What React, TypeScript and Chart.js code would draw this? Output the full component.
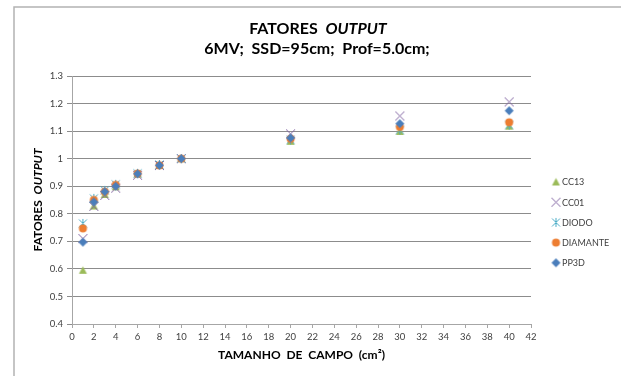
import React, { useEffect, useRef } from 'react';
import { Chart, registerables } from 'chart.js';
Chart.register(...registerables);

const fieldSizes = [1, 2, 3, 4, 6, 8, 10, 20, 30, 40];
const cc13 = [0.595, 0.828, 0.870, 0.898, 0.944, 0.975, 1.0, 1.063, 1.099, 1.118];
const cc01 = [0.710, 0.827, 0.867, 0.893, 0.940, 0.975, 1.0, 1.090, 1.155, 1.206];
const diodo = [0.765, 0.856, 0.885, 0.907, 0.947, 0.979, 1.0, 1.068, 1.104, 1.122];
const diamante = [0.747, 0.850, 0.880, 0.905, 0.946, 0.976, 1.0, 1.072, 1.115, 1.132];
const pp3d = [0.697, 0.843, 0.880, 0.900, 0.945, 0.976, 1.0, 1.075, 1.127, 1.174];
const seriesNames = ['CC13', 'CC01', 'DIODO', 'DIAMANTE', 'PP3D'];
const seriesValues = [cc13, cc01, diodo, diamante, pp3d];
const seriesColors = ['#9BBB59', '#8064A2', '#4BACC6', '#ED7D31', '#4A7EBB'];
const xMin = 0, xMax = 42, xStep = 2;
const yMin = 0.4, yMax = 1.3, yStep = 0.1;
const titleLine1 = ['FATORES  ', 'OUTPUT'];
const titleLine2 = '6MV;  SSD=95cm;  Prof=5.0cm;';
const yTitle = ['FATORES  ', 'OUTPUT'];
const xTitle = 'TAMANHO  DE  CAMPO  (cm²)';

const FONT = 'Lato, "Liberation Sans", sans-serif';

function makeMarker(kind: string, color: string): HTMLCanvasElement {
  const s = 11;
  const c = document.createElement('canvas');
  c.width = s; c.height = s;
  const ctx = c.getContext('2d')!;
  const m = s / 2;
  ctx.fillStyle = color;
  ctx.strokeStyle = color;
  ctx.lineWidth = 1;
  if (kind === 'triangle') {
    ctx.beginPath();
    ctx.moveTo(m, m - 4);
    ctx.lineTo(m + 4, m + 3.5);
    ctx.lineTo(m - 4, m + 3.5);
    ctx.closePath();
    ctx.fill();
  } else if (kind === 'x') {
    ctx.beginPath();
    ctx.moveTo(m - 4.5, m - 4.5); ctx.lineTo(m + 4.5, m + 4.5);
    ctx.moveTo(m + 4.5, m - 4.5); ctx.lineTo(m - 4.5, m + 4.5);
    ctx.stroke();
  } else if (kind === 'star') {
    ctx.beginPath();
    ctx.moveTo(m - 4, m - 4); ctx.lineTo(m + 4, m + 4);
    ctx.moveTo(m + 4, m - 4); ctx.lineTo(m - 4, m + 4);
    ctx.moveTo(m, m - 4.5); ctx.lineTo(m, m + 4.5);
    ctx.stroke();
  } else if (kind === 'circle') {
    ctx.beginPath();
    ctx.arc(m, m, 4, 0, Math.PI * 2);
    ctx.fill();
  } else {
    ctx.beginPath();
    ctx.moveTo(m, m - 4.5);
    ctx.lineTo(m + 4.5, m);
    ctx.lineTo(m, m + 4.5);
    ctx.lineTo(m - 4.5, m);
    ctx.closePath();
    ctx.fill();
  }
  return c;
}

const markerKinds = ['triangle', 'x', 'star', 'circle', 'diamond'];

function drawRich(ctx: CanvasRenderingContext2D, parts: { t: string; f: string }[], cx: number, cy: number) {
  let total = 0;
  parts.forEach(p => { ctx.font = p.f; total += ctx.measureText(p.t).width; });
  let x = cx - total / 2;
  ctx.textAlign = 'left';
  ctx.textBaseline = 'middle';
  parts.forEach(p => { ctx.font = p.f; ctx.fillText(p.t, x, cy); x += ctx.measureText(p.t).width; });
}

export default function App() {
  const ref = useRef<HTMLCanvasElement>(null);
  useEffect(() => {
    const markers = markerKinds.map((k, i) => makeMarker(k, seriesColors[i]));
    const decor = {
      id: 'decor',
      beforeDraw(chart: any) {
        const ctx = chart.ctx;
        ctx.save();
        ctx.fillStyle = '#ffffff';
        ctx.fillRect(0, 0, chart.width, chart.height);
        ctx.strokeStyle = '#b3b3b3';
        ctx.lineWidth = 1.5;
        ctx.strokeRect(14, 7, 800, 600);
        ctx.restore();
      },
      afterDraw(chart: any) {
        const ctx = chart.ctx;
        const ca = chart.chartArea;
        ctx.save();
        ctx.fillStyle = '#000000';
        drawRich(ctx, [
          { t: titleLine1[0], f: `bold 16px ${FONT}` },
          { t: titleLine1[1], f: `italic bold 16px ${FONT}` },
        ], 318, 29);
        drawRich(ctx, [{ t: titleLine2, f: `bold 16px ${FONT}` }], 317, 49);
        drawRich(ctx, [{ t: xTitle, f: `bold 12px ${FONT}` }], (ca.left + ca.right) / 2, 355);
        ctx.save();
        ctx.translate(38, (ca.top + ca.bottom) / 2);
        ctx.rotate(-Math.PI / 2);
        drawRich(ctx, [
          { t: yTitle[0], f: `bold 12px ${FONT}` },
          { t: yTitle[1], f: `italic bold 12px ${FONT}` },
        ], 0, 0);
        ctx.restore();
        // legend
        ctx.fillStyle = '#404040';
        seriesNames.forEach((n, i) => {
          const y = 182 + i * 20.2;
          ctx.drawImage(markers[i], 556 - 5.5, y - 5.5);
          ctx.font = `9px ${FONT}`;
          ctx.textAlign = 'left';
          ctx.textBaseline = 'middle';
          ctx.fillText(n, 562, y + 0.5);
        });
        ctx.restore();
      },
    };
    const chart = new Chart(ref.current!, {
      type: 'scatter',
      data: {
        datasets: seriesNames.map((n, i) => ({
          label: n,
          data: fieldSizes.map((x, j) => ({ x, y: seriesValues[i][j] })),
          pointStyle: markers[i] as any,
          pointRadius: 5,
          backgroundColor: seriesColors[i],
          borderColor: seriesColors[i],
          order: seriesNames.length - i,
        })),
      },
      options: {
        animation: false,
        responsive: false,
        events: [],
        layout: { padding: { left: 0, right: 90, top: 76, bottom: 0 } },
        plugins: { legend: { display: false }, tooltip: { enabled: false }, title: { display: false } },
        scales: {
          x: {
            type: 'linear',
            min: xMin, max: xMax,
            afterFit: (s: any) => { s.height = 52; },
            ticks: {
              stepSize: xStep,
              color: '#404040',
              font: { family: FONT, size: 9.5 },
              padding: 3,
              maxRotation: 0,
              autoSkip: false,
            },
            grid: { drawOnChartArea: false, drawTicks: true, tickLength: 4, color: '#a6a6a6' },
            border: { color: '#a6a6a6', width: 1 },
          },
          y: {
            type: 'linear',
            min: yMin, max: yMax,
            afterFit: (s: any) => { s.width = 72; },
            ticks: {
              stepSize: yStep,
              color: '#404040',
              font: { family: FONT, size: 9.5 },
              padding: 4,
              callback: (v: any) => String(Number(Number(v).toFixed(1))),
            },
            grid: { drawOnChartArea: true, drawTicks: true, tickLength: 5, color: '#8c8c8c' },
            border: { color: '#a6a6a6', width: 1 },
          },
        },
      },
      plugins: [decor],
    });
    return () => chart.destroy();
  }, []);
  return (
    <div style={{ position: 'fixed', left: 0, top: 0, width: 621, height: 376, background: '#fff' }}>
      <canvas ref={ref} width={621} height={376} style={{ width: 621, height: 376, display: 'block' }} />
    </div>
  );
}
